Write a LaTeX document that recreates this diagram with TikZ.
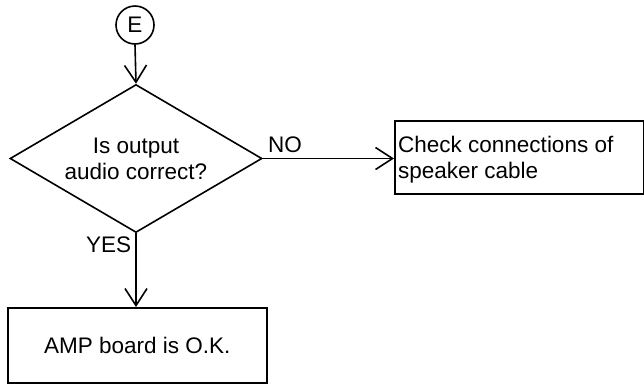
\documentclass[tikz,border=0pt]{standalone}
\usepackage{fontspec}
\setmainfont{Liberation Sans}
\usetikzlibrary{shapes.geometric,arrows.meta}
\begin{document}
\begin{tikzpicture}[x=1pt,y=-1pt,
  every node/.style={font=\fontsize{22.5}{26}\selectfont},
  line/.style={line width=1.6pt},
  conn/.style={line, -{Straight Barb[length=17pt,width=22pt,line width=1.6pt]}},
  boxnode/.style={draw, line width=1.6pt, rectangle, inner sep=0pt, anchor=north west},
  lbl/.style={inner sep=0pt, anchor=base west}]
\useasboundingbox (0,0) rectangle (644,384);
\node[draw, line width=1.6pt, circle, minimum size=38pt, inner sep=0pt] (e) at (135,25) {E};
\node[draw, line width=1.6pt, diamond, aspect=1.7027, minimum width=252pt, minimum height=148pt, inner sep=0pt, align=center] (d) at (136,158.5) {Is output\\audio correct?};
\node[boxnode, minimum width=249pt, minimum height=73pt] (b1) at (394,120) {};
\node[lbl, align=left, anchor=north west] (t1) at (398,136) {Check connections of\\speaker cable};
\node[boxnode, minimum width=259pt, minimum height=75pt] (b2) at (7,307) {};
\node[inner sep=0pt] (t2) at (b2.center) {AMP board is O.K.};
\draw[conn] (e.south) -- (d.north);
\draw[conn] (d.east) -- (d.east -| b1.west);
\draw[conn] (d.south) -- (b2.north -| d.south);
\node[lbl] (no) at (268,152) {NO};
\node[lbl] (yes) at (86,252) {YES};
\end{tikzpicture}
\end{document}
